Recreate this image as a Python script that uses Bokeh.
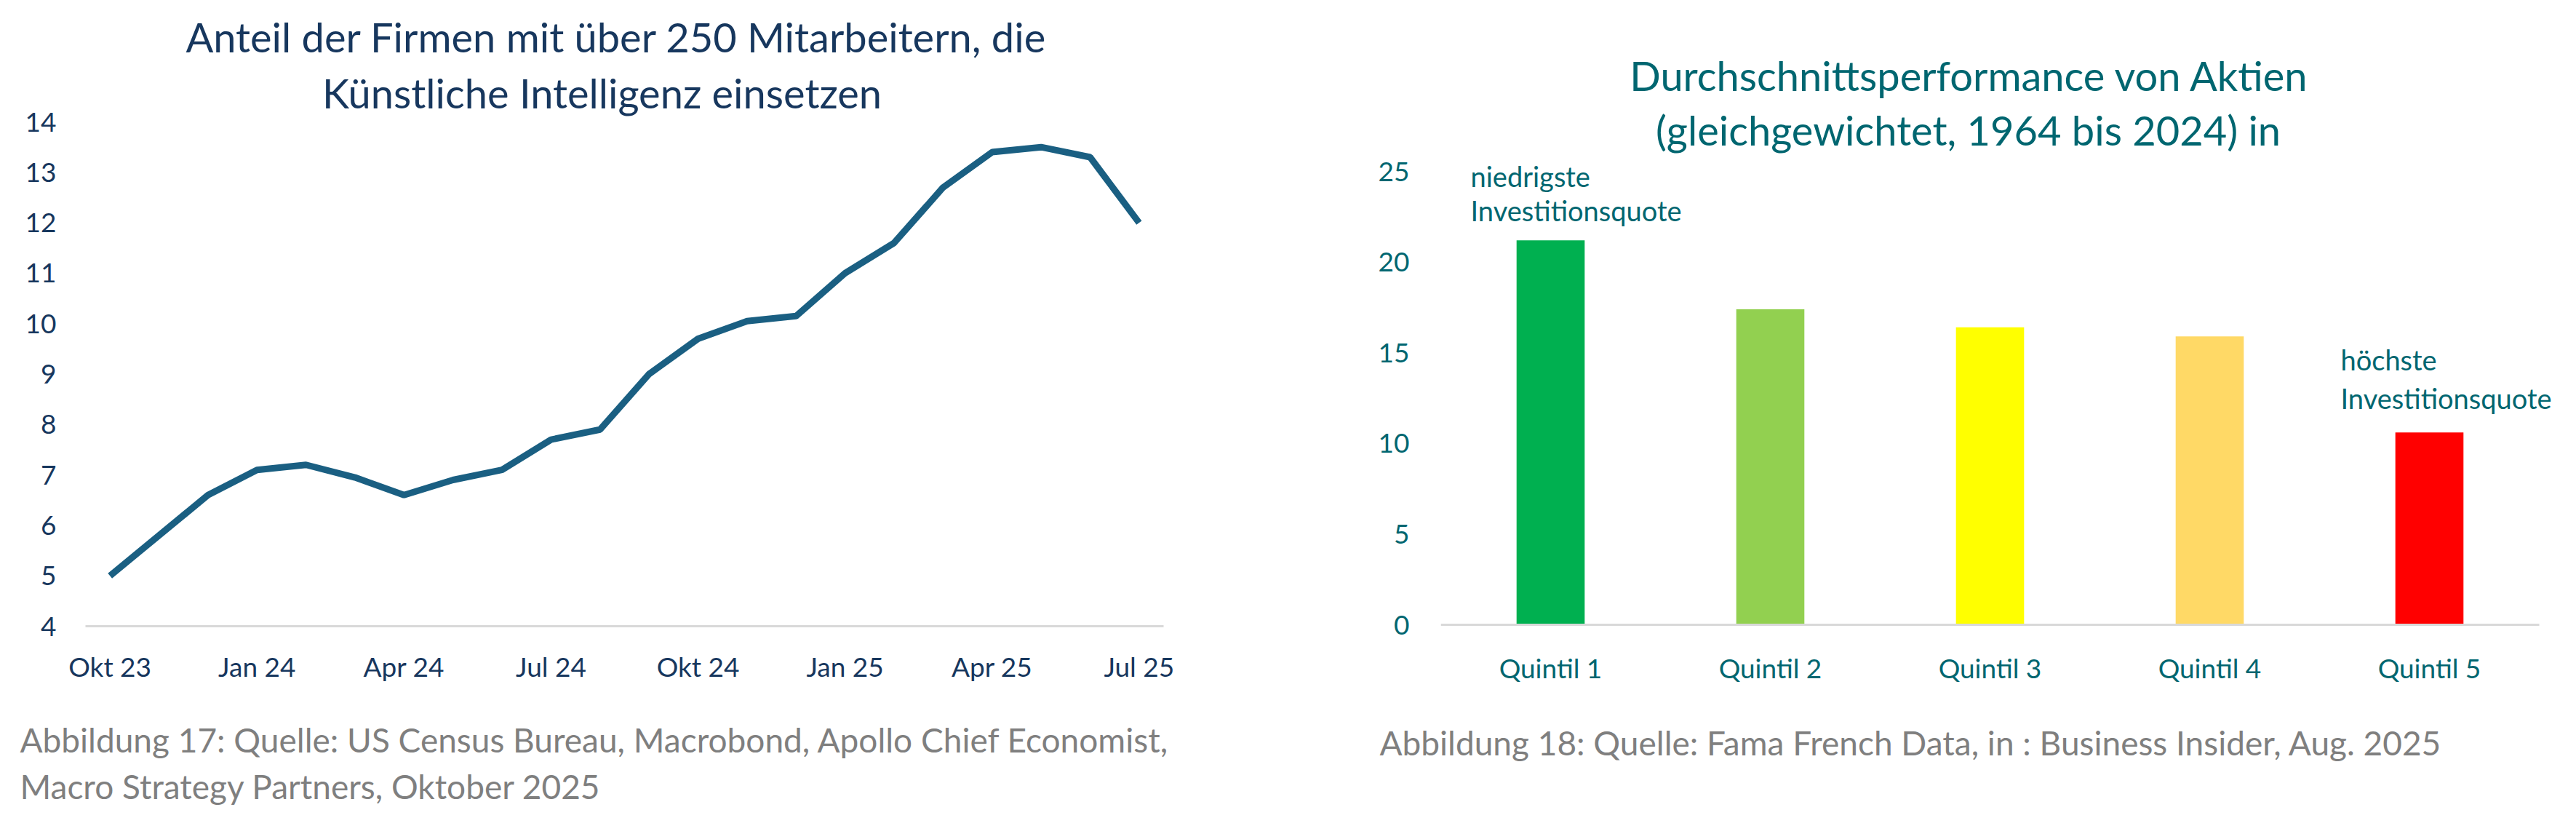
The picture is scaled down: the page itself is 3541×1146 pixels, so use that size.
from bokeh.plotting import figure
from bokeh.models import Range1d, FixedTicker, Label
from bokeh.layouts import row, column
from bokeh.embed import file_html
from bokeh.resources import INLINE

FONT = "Lato"
NAVY = "#17375E"
LINE = "#1A5F82"
TEAL = "#006670"
GRAY = "#7F7F7F"
AXIS_GRAY = "#D9D9D9"

# ---- data: left chart ----
months = ["Okt 23", "Nov 23", "Dez 23", "Jan 24", "Feb 24", "Mär 24", "Apr 24", "Mai 24",
          "Jun 24", "Jul 24", "Aug 24", "Sep 24", "Okt 24", "Nov 24", "Dez 24", "Jan 25",
          "Feb 25", "Mär 25", "Apr 25", "Mai 25", "Jun 25", "Jul 25"]
ai_share = [5.0, 5.8, 6.6, 7.1, 7.2, 6.95, 6.6, 6.9, 7.1, 7.7, 7.9, 9.0,
            9.7, 10.05, 10.15, 11.0, 11.6, 12.7, 13.4, 13.5, 13.3, 12.0]
x_tick_labels = ["Okt 23", "Jan 24", "Apr 24", "Jul 24", "Okt 24", "Jan 25", "Apr 25", "Jul 25"]
y_ticks_left = [4, 5, 6, 7, 8, 9, 10, 11, 12, 13, 14]

# ---- data: right chart ----
quintiles = ["Quintil 1", "Quintil 2", "Quintil 3", "Quintil 4", "Quintil 5"]
performance = [21.2, 17.4, 16.4, 15.9, 10.6]
bar_colors = ["#00B050", "#92D050", "#FFFF00", "#FFD966", "#FF0000"]
y_ticks_right = [0, 5, 10, 15, 20, 25]

title_left = ["Anteil der Firmen mit über 250 Mitarbeitern, die", "Künstliche Intelligenz einsetzen"]
title_right = ["Durchschnittsperformance von Aktien", "(gleichgewichtet, 1964 bis 2024) in"]
caption_left = ["Abbildung 17: Quelle: US Census Bureau, Macrobond, Apollo Chief Economist,",
                "Macro Strategy Partners, Oktober 2025"]
caption_right = ["Abbildung 18: Quelle: Fama French Data, in : Business Insider, Aug. 2025"]


def clean(p):
    p.xgrid.visible = False
    p.ygrid.visible = False
    p.outline_line_color = None
    p.background_fill_color = "white"
    p.border_fill_color = "white"


def style_axes(p, color, size="37px"):
    for ax in (p.xaxis[0], p.yaxis[0]):
        ax.major_tick_line_color = None
        ax.minor_tick_line_color = None
        ax.major_tick_in = 0
        ax.major_tick_out = 0
        ax.minor_tick_in = 0
        ax.minor_tick_out = 0
        ax.major_label_text_font = FONT
        ax.major_label_text_font_size = size
        ax.major_label_text_color = color
    p.yaxis.axis_line_color = None
    clean(p)


def add_text(p, txt, x, y, size, color, align="left"):
    p.add_layout(Label(x=x, y=y, x_units="screen", y_units="screen", text=txt,
                       text_font=FONT, text_font_size=size, text_color=color,
                       text_align=align, text_baseline="alphabetic"))


def text_panel(width, height):
    c = figure(width=width, height=height, x_range=Range1d(0, 1), y_range=Range1d(0, 1),
               output_backend="svg", toolbar_location=None, frame_align=False,
               x_axis_type=None, y_axis_type=None,
               min_border_left=0, min_border_right=0, min_border_top=0, min_border_bottom=0)
    clean(c)
    return c


W1, W2 = 1830, 1695
H_CHART, H_CAP = 950, 180
FRAME_H1 = 860
FRAME_H2 = 860

# ---------------- left chart ----------------
px_per_unit_l = 693 / 10.0
p1 = figure(width=W1, height=H_CHART, x_range=Range1d(-0.5, len(months) - 0.5),
            y_range=Range1d(4, 4 + FRAME_H1 / px_per_unit_l), output_backend="svg",
            toolbar_location=None, frame_align=False,
            min_border_left=117, min_border_right=231,
            min_border_top=0, min_border_bottom=H_CHART - FRAME_H1)
style_axes(p1, NAVY)
p1.xaxis.axis_line_color = AXIS_GRAY
p1.xaxis.axis_line_width = 3
xi = list(range(len(months)))
p1.line(xi, ai_share, line_width=9, line_color=LINE)
tick_pos = [months.index(m) for m in x_tick_labels]
p1.xaxis.ticker = FixedTicker(ticks=tick_pos)
p1.xaxis.major_label_overrides = {t: m for t, m in zip(tick_pos, x_tick_labels)}
p1.xaxis.major_label_standoff = 32
p1.yaxis.ticker = FixedTicker(ticks=y_ticks_left)
p1.yaxis.major_label_standoff = 40

add_text(p1, title_left[0], 730, 810, "56px", NAVY, "center")
add_text(p1, title_left[1], 710, 733, "56px", NAVY, "center")

c1 = text_panel(W1, H_CAP)
add_text(c1, caption_left[0], 27, 114, "46px", GRAY)
add_text(c1, caption_left[1], 27, 50, "46px", GRAY)

# ---------------- right chart ----------------
px_per_unit_r = 623 / 25.0
frame_w2 = W2 - 150
p2 = figure(width=W2, height=H_CHART,
            x_range=Range1d(0, len(quintiles) * frame_w2 / 1510.0),
            y_range=Range1d(-2 / px_per_unit_r, (FRAME_H2 - 2) / px_per_unit_r),
            output_backend="svg", toolbar_location=None, frame_align=False,
            min_border_left=150, min_border_right=0, min_border_top=0,
            min_border_bottom=H_CHART - FRAME_H2)
style_axes(p2, TEAL)
p2.xaxis.axis_line_color = None
xc = [i + 0.5 for i in range(len(quintiles))]
p2.vbar(x=xc, top=performance, width=0.31, fill_color=bar_colors, line_color=None)
p2.segment(x0=[0], y0=[0], x1=[len(quintiles)], y1=[0], line_color=AXIS_GRAY, line_width=3)
p2.xaxis.ticker = FixedTicker(ticks=xc)
p2.xaxis.major_label_overrides = {c: q for c, q in zip(xc, quintiles)}
p2.xaxis.major_label_standoff = 34
p2.yaxis.ticker = FixedTicker(ticks=y_ticks_right)
p2.yaxis.major_label_standoff = 43

add_text(p2, title_right[0], 727, 757, "56px", TEAL, "center")
add_text(p2, title_right[1], 725, 682, "56px", TEAL, "center")
add_text(p2, "niedrigste", 41, 619, "38px", TEAL)
add_text(p2, "Investitionsquote", 41, 572, "38px", TEAL)
add_text(p2, "höchste", 1237, 367, "38px", TEAL)
add_text(p2, "Investitionsquote", 1237, 314, "38px", TEAL)

c2 = text_panel(W2, H_CAP)
add_text(c2, caption_right[0], 66, 110, "46px", GRAY)

layout = row(column(p1, c1, spacing=0), column(p2, c2, spacing=0), spacing=0)
open("out.html", "w").write(file_html(layout, INLINE))
